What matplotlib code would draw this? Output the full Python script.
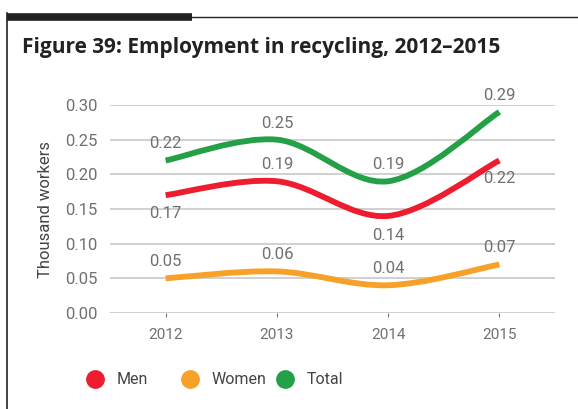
import matplotlib.pyplot as plt
import numpy as np
from matplotlib.path import Path
from matplotlib.patches import PathPatch
from matplotlib.lines import Line2D

years = [2012, 2013, 2014, 2015]
men = [0.17, 0.19, 0.14, 0.22]
women = [0.05, 0.06, 0.04, 0.07]
total = [0.22, 0.25, 0.19, 0.29]
men_lbl = ['0.17', '0.19', '0.14', '0.22']
women_lbl = ['0.05', '0.06', '0.04', '0.07']
total_lbl = ['0.22', '0.25', '0.19', '0.29']
series_names = ['Men', 'Women', 'Total']

c_men = '#ED1C2E'
c_women = '#F7A128'
c_total = '#24A046'
grey = '#707070'

plt.rcParams['font.family'] = ['Roboto', 'DejaVu Sans']


def smooth_path(x, y):
    # catmull-rom through the points, drawn as bezier segments
    x = np.asarray(x, float)
    y = np.asarray(y, float)
    n = len(x)
    verts = [(x[0], y[0])]
    codes = [Path.MOVETO]
    for i in range(n - 1):
        i0 = max(i - 1, 0)
        i3 = min(i + 2, n - 1)
        d1 = ((x[i + 1] - x[i0]) / 6, (y[i + 1] - y[i0]) / 6)
        d2 = ((x[i3] - x[i]) / 6, (y[i3] - y[i]) / 6)
        verts += [(x[i] + d1[0], y[i] + d1[1]),
                  (x[i + 1] - d2[0], y[i + 1] - d2[1]),
                  (x[i + 1], y[i + 1])]
        codes += [Path.CURVE4] * 3
    return Path(verts, codes)


fig = plt.figure(figsize=(5.78, 4.09), dpi=100)
ax = fig.add_axes([110 / 578, 1 - 313 / 409, 445 / 578, 208 / 409])

for vals, col in [(women, c_women), (men, c_men), (total, c_total)]:
    ax.add_patch(PathPatch(smooth_path(years, vals), facecolor='none',
                           edgecolor=col, lw=4.2, capstyle='butt', zorder=3))

ax.set_xlim(2011.5, 2015.5)
ax.set_ylim(0, 0.30)
ax.set_yticks(np.arange(0, 0.31, 0.05))
ax.set_yticklabels(['%.2f' % v for v in np.arange(0, 0.31, 0.05)])
ax.set_xticks(years)
ax.set_xticklabels([str(y) for y in years])
ax.grid(axis='y', color='#C8C8C8', lw=1.2)
ax.set_axisbelow(True)
for s in ax.spines.values():
    s.set_visible(False)
ax.tick_params(axis='y', length=0, labelsize=12, labelcolor=grey, pad=9)
ax.tick_params(axis='x', length=3, color=grey, labelsize=11, labelcolor=grey, pad=8)
ax.set_ylabel('Thousand workers', fontsize=12, color='#444444', labelpad=9)

# value labels: (offset in points)
offs_total = [12, 12, 12, 12]
offs_men = [-13, 12, -14, -13]
offs_women = [12, 12, 12, 12]
for vals, lbls, offs in [(total, total_lbl, offs_total), (men, men_lbl, offs_men),
                         (women, women_lbl, offs_women)]:
    for x, v, l, o in zip(years, vals, lbls, offs):
        ax.annotate(l, (x, v), xytext=(0, o), textcoords='offset points',
                    ha='center', va='center', fontsize=12, color=grey, zorder=4)

fig.text(22 / 578, 1 - 47 / 409, 'Figure 39: Employment in recycling, 2012\u20132015',
         fontsize=15, fontweight='bold', color='#222222', va='center',
         family=['Open Sans', 'DejaVu Sans'])

# legend entries placed one by one like the original
for name, col, xpos in zip(series_names, (c_men, c_women, c_total), (87, 182, 277)):
    h = Line2D([], [], marker='o', ls='none', color=col, markersize=12.5)
    leg = fig.legend([h], [name], loc='center left',
                     bbox_to_anchor=(xpos / 578, 1 - 380 / 409), frameon=False,
                     fontsize=11.5, labelcolor='#444444', handletextpad=0.85,
                     handlelength=1.0, borderaxespad=0, borderpad=0)

# frame lines
fig.add_artist(Line2D([7 / 578, 7 / 578], [0, 1 - 13 / 409], color='#222222', lw=1.2))
fig.add_artist(Line2D([7 / 578, 192 / 578], [1 - 16.5 / 409] * 2, color='#222222', lw=5.5,
                      solid_capstyle='butt'))
fig.add_artist(Line2D([192 / 578, 1], [1 - 17 / 409] * 2, color='#222222', lw=1.0))

fig.savefig('out.png', dpi=100)
